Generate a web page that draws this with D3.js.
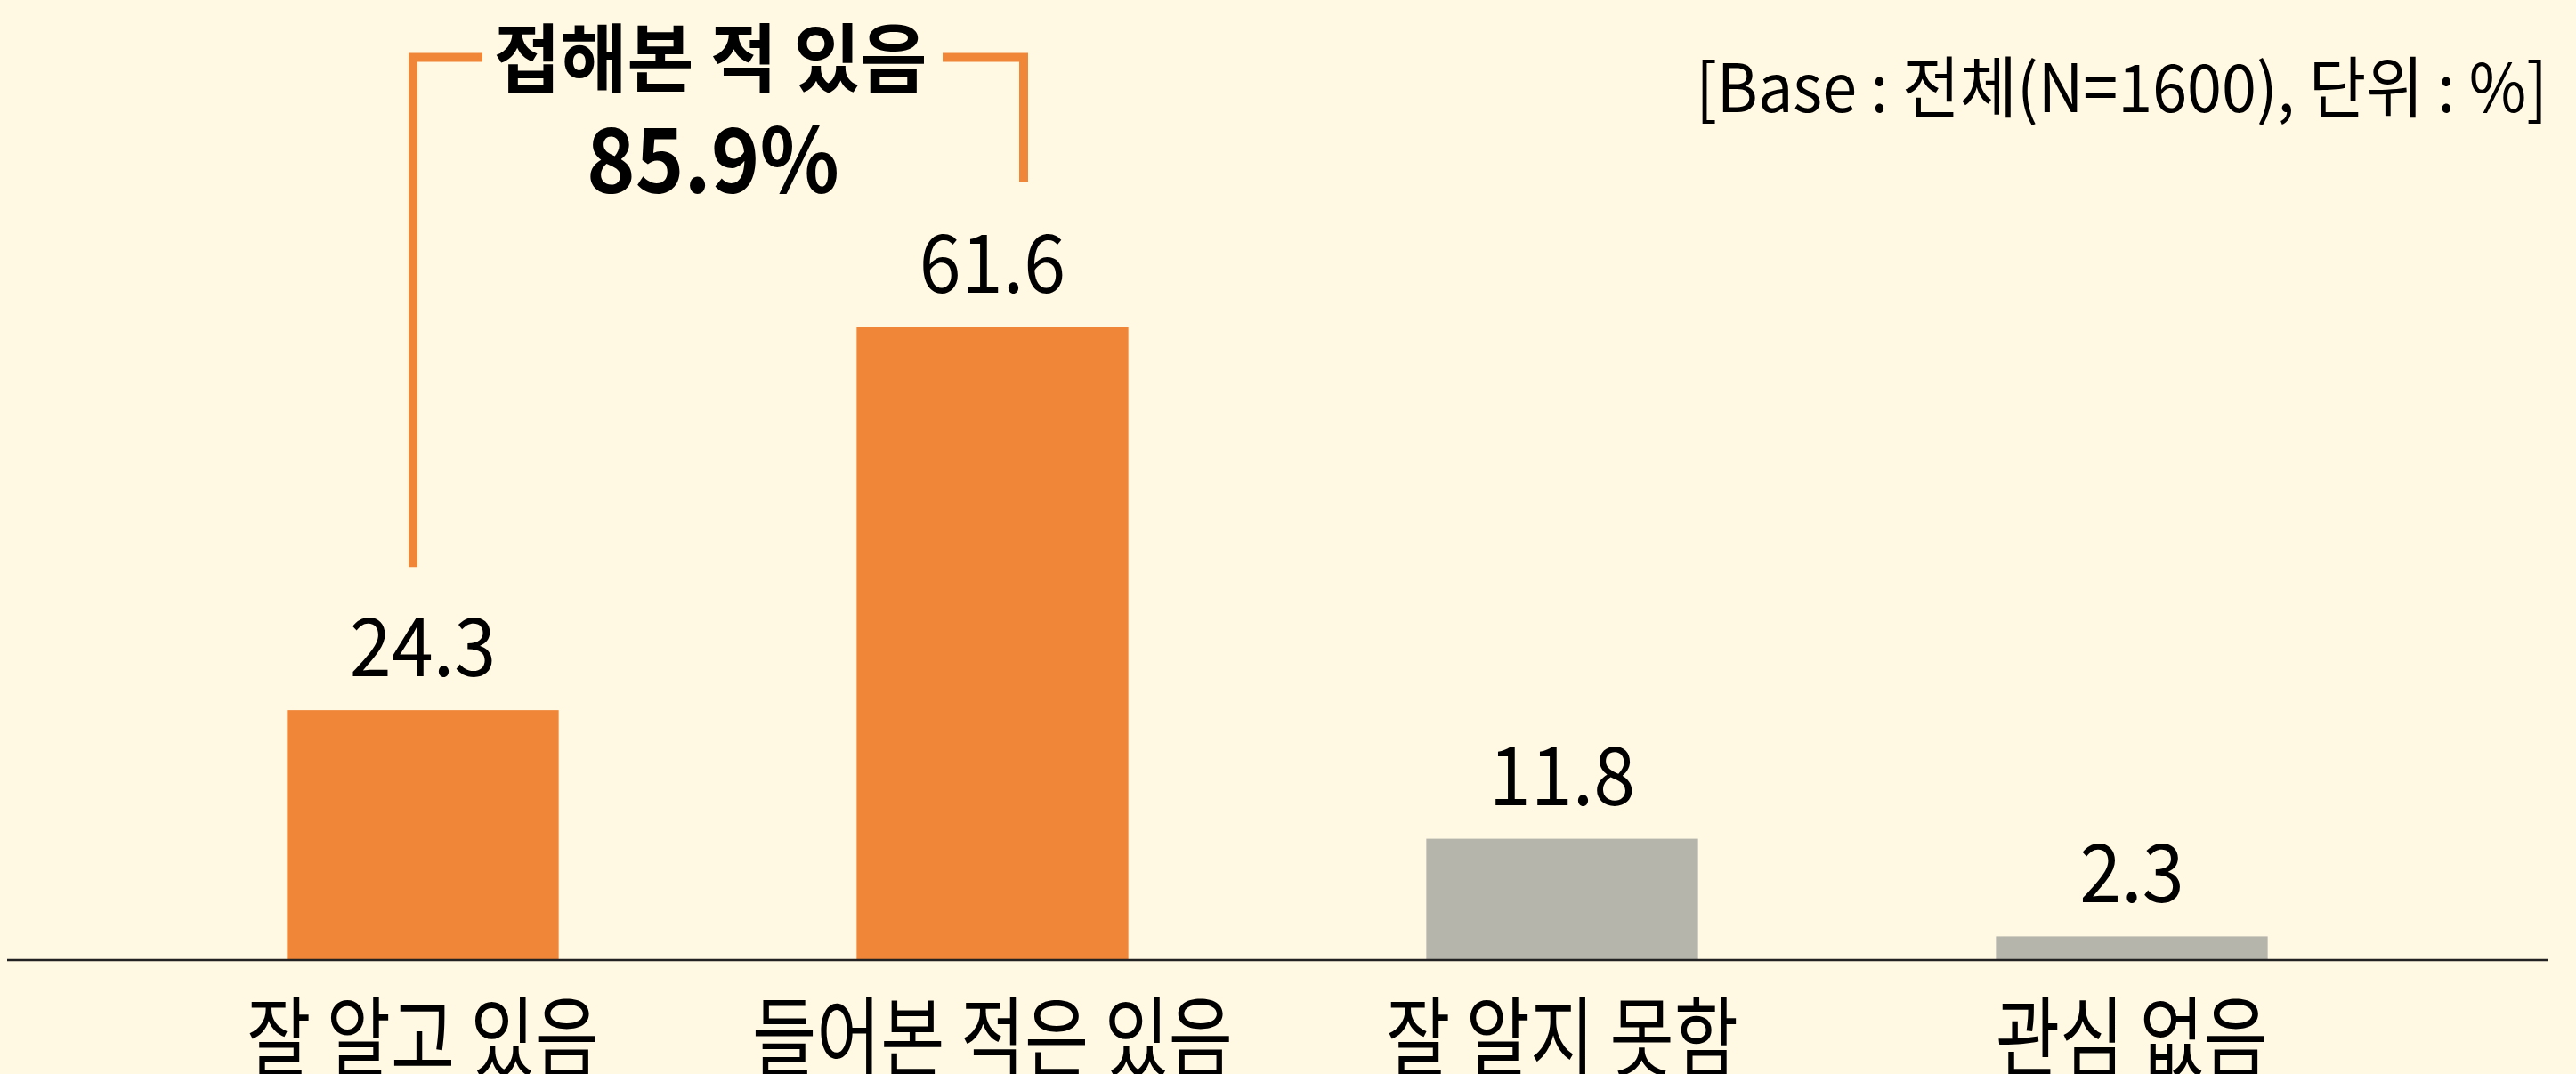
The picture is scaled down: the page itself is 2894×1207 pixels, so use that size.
<!DOCTYPE html>
<html>
<head>
<meta charset="utf-8">
<script src="https://cdn.jsdelivr.net/npm/d3@7"></script>
<style>
    body { margin: 0; background: #FFF8E3; }
    svg { display: block; }
    text { font-family: 'Noto Sans CJK KR', 'Noto Sans', sans-serif; fill: #000; }
</style>
</head>
<body>
<div id="chart"></div>
<script>
const categories = ['잘 알고 있음', '들어본 적은 있음', '잘 알지 못함', '관심 없음'];
const values = [24.3, 61.6, 11.8, 2.3];
const groups = ['aware', 'aware', 'unaware', 'unaware'];
const bracketTitle = '접해본 적 있음';
const bracketTotal = '85.9%';
const baseNote = '[Base : 전체(N=1600), 단위 : %]';

const width = 2894;
const height = 1207;
const baseY = 1079;

const svg = d3.select('#chart')
    .append('svg')
    .attr('width', width)
    .attr('height', height);

svg.append('rect')
    .attr('width', width)
    .attr('height', height)
    .attr('fill', '#FFF8E3');

const xScale = d3.scaleBand()
    .domain(categories)
    .range([155, 2715])
    .paddingInner(0.523)
    .paddingOuter(0.2615);

const yScale = d3.scaleLinear()
    .domain([0, 61.6])
    .range([baseY, 367]);

const colorScale = d3.scaleOrdinal()
    .domain(['aware', 'unaware'])
    .range(['#EF8638', '#B5B5AB']);

// bars
svg.append('g')
    .selectAll('rect')
    .data(categories)
    .join('rect')
    .attr('x', d => xScale(d))
    .attr('y', (d, i) => yScale(values[i]))
    .attr('width', xScale.bandwidth())
    .attr('height', (d, i) => baseY - yScale(values[i]))
    .attr('fill', (d, i) => colorScale(groups[i]));

// baseline
svg.append('line')
    .attr('x1', 8)
    .attr('x2', 2862)
    .attr('y1', baseY)
    .attr('y2', baseY)
    .attr('stroke', '#222')
    .attr('stroke-width', 2.5);

const cx = d => xScale(d) + xScale.bandwidth() / 2;

// value labels
svg.append('g')
    .selectAll('text')
    .data(categories)
    .join('text')
    .attr('transform', (d, i) => `translate(${cx(d)},${yScale(values[i]) - 38}) scale(0.93,1)`)
    .attr('text-anchor', 'middle')
    .attr('font-size', 91)
    .text((d, i) => values[i].toFixed(1));

// category labels
svg.append('g')
    .selectAll('text')
    .data(categories)
    .join('text')
    .attr('transform', d => `translate(${cx(d)},1202) scale(0.8,1)`)
    .attr('text-anchor', 'middle')
    .attr('font-size', 98)
    .text(d => d);

// bracket over the "aware" bars
const leftX = cx(categories[0]) - 11;
const rightX = cx(categories[1]) + 35;
const topY = 64.5;
const titleX = (leftX + rightX) / 2 - 9;
const bracket = svg.append('g')
    .attr('stroke', '#EF8638')
    .attr('stroke-width', 10)
    .attr('fill', 'none');

bracket.append('path')
    .attr('d', d3.line()([
        [leftX + 78, topY], [leftX, topY], [leftX, yScale(values[0]) - 161]
    ]))
    .attr('stroke-linejoin', 'miter');

bracket.append('path')
    .attr('d', d3.line()([
        [rightX - 91, topY], [rightX, topY], [rightX, yScale(values[1]) - 163]
    ]))
    .attr('stroke-linejoin', 'miter');

svg.append('text')
    .attr('transform', `translate(${titleX},97) scale(0.97,1)`)
    .attr('text-anchor', 'middle')
    .attr('font-size', 84)
    .attr('font-weight', 700)
    .text(bracketTitle);

svg.append('text')
    .attr('transform', `translate(${titleX + 3},217) scale(0.92,1)`)
    .attr('text-anchor', 'middle')
    .attr('font-size', 101)
    .attr('font-weight', 700)
    .text(bracketTotal);

// base note
svg.append('text')
    .attr('transform', 'translate(2862,126) scale(0.935,1)')
    .attr('text-anchor', 'end')
    .attr('font-size', 75)
    .text(baseNote);
</script>
</body>
</html>
